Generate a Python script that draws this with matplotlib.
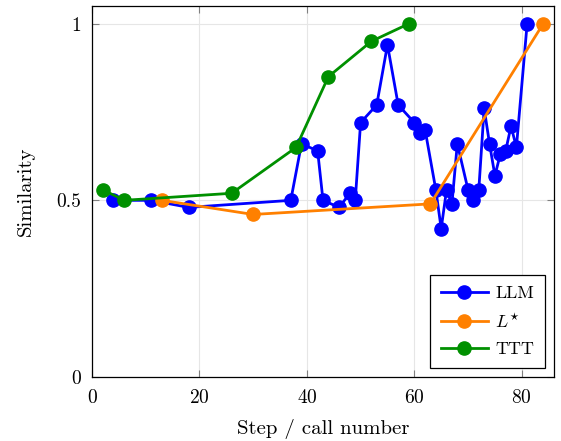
import matplotlib
matplotlib.use("Agg")
import matplotlib.pyplot as plt

plt.rcParams['font.family'] = ['cmr10', 'DejaVu Serif']
plt.rcParams['mathtext.fontset'] = 'cm'
plt.rcParams['axes.formatter.use_mathtext'] = True

# LLM run
llm_x = [4, 11, 18, 37, 39, 42, 43, 46, 48, 49, 50, 53, 55, 57, 60, 61, 62,
         64, 65, 66, 67, 68, 70, 71, 72, 73, 74, 75, 76, 77, 78, 79, 81]
llm_y = [0.50, 0.50, 0.48, 0.50, 0.66, 0.64, 0.50, 0.48, 0.52, 0.50, 0.72, 0.77,
         0.94, 0.77, 0.72, 0.69, 0.70, 0.53, 0.42, 0.53, 0.49, 0.66, 0.53, 0.50,
         0.53, 0.76, 0.66, 0.57, 0.63, 0.64, 0.71, 0.65, 1.00]

# L* run
lstar_x = [13, 30, 63, 84]
lstar_y = [0.50, 0.46, 0.49, 1.00]

# TTT run
ttt_x = [2, 6, 26, 38, 44, 52, 59]
ttt_y = [0.53, 0.50, 0.52, 0.65, 0.85, 0.95, 1.00]

fig = plt.figure(figsize=(5.61, 4.41), dpi=100)
ax = fig.add_axes([92 / 561, 1 - 377 / 441, (554 - 92) / 561, (377 - 6) / 441])

style = dict(lw=2, marker='o', ms=9.5)
ax.plot(llm_x, llm_y, color='#0000ff', label='LLM', **style)
ax.plot(lstar_x, lstar_y, color='#ff8000', label=r'$L^{\star}$', **style)
ax.plot(ttt_x, ttt_y, color='#009000', label='TTT', **style)

ax.set_xlim(0, 86)
ax.set_ylim(0, 1.05)
ax.set_xticks([0, 20, 40, 60, 80])
ax.set_yticks([0, 0.5, 1])
ax.set_yticklabels(['0', '0.5', '1'])
ax.grid(True, color='#e6e6e6', lw=0.8)
ax.set_axisbelow(True)
ax.tick_params(direction='in', top=True, right=True, length=5, width=0.8,
               color='#808080', labelsize=14)
ax.tick_params(axis='x', pad=8.5)
ax.tick_params(axis='y', pad=8)
for s in ax.spines.values():
    s.set_linewidth(0.9)

ax.set_xlabel('Step / call number', fontsize=15, labelpad=9)
ax.set_ylabel('Similarity', fontsize=15, labelpad=15)

leg = ax.legend(loc='lower right', fontsize=13, fancybox=False, edgecolor='black',
                framealpha=1, borderaxespad=0.5, handlelength=2.6,
                handletextpad=0.4, labelspacing=0.6, borderpad=0.6)
leg.get_frame().set_linewidth(0.9)

fig.savefig('out.png', dpi=100)
